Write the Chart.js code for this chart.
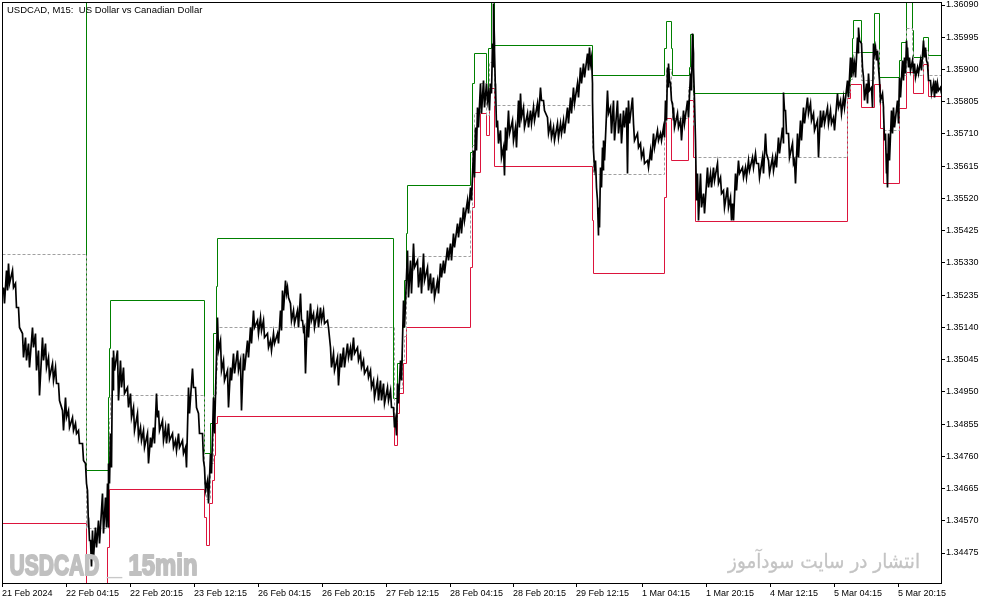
<!DOCTYPE html>
<html>
<head>
<meta charset="utf-8">
<script src="https://cdn.jsdelivr.net/npm/chart.js@4.4.1/dist/chart.umd.min.js"></script>
<style>
html,body{margin:0;padding:0;background:#fff;}
canvas{display:block;}
</style>
</head>
<body>
<canvas id="c" width="994" height="605"></canvas>
<script>
// ---------- DATA ----------
const titleText = 'USDCAD, M15:  US Dollar vs Canadian Dollar';
const watermarkSymbol = 'USDCAD';
const watermarkSep = '_';
const watermarkTf = '15min';
const watermarkSite = 'انتشار در سایت سودآموز';

const xTickBars = [0,64,128,192,256,320,384,448,511,574,640,704,768,832,896];
const xTickLabels = ['21 Feb 2024','22 Feb 04:15','22 Feb 20:15','23 Feb 12:15','26 Feb 04:15','26 Feb 20:15','27 Feb 12:15','28 Feb 04:15','28 Feb 20:15','29 Feb 12:15','1 Mar 04:15','1 Mar 20:15','4 Mar 12:15','5 Mar 04:15','5 Mar 20:15'];
const yTicks = [1.34475,1.34570,1.34665,1.34760,1.34855,1.34950,1.35045,1.35140,1.35235,1.35330,1.35425,1.35520,1.35615,1.35710,1.35805,1.35900,1.35995,1.36090];
const yMin = 1.343866, yMax = 1.360959;
const barCount = 939;

// price samples: [bar, high, low]
const priceSamples = [
[1,1.35259,1.35212],[4,1.35309,1.35250],[6,1.35330,1.35271],[10,1.35309,1.35259],[13,1.35271,1.35200],
[16,1.35200,1.35141],[20,1.35123,1.35053],[23,1.35111,1.35044],[26,1.35094,1.35023],[30,1.35141,1.35082],
[33,1.35123,1.35015],[36,1.35074,1.34941],[40,1.35111,1.35044],[43,1.35094,1.35023],[46,1.35053,1.34994],
[50,1.35035,1.34985],[53,1.35023,1.34976],[56,1.34976,1.34926],[60,1.34897,1.34838],[63,1.34935,1.34876],
[66,1.34897,1.34846],[70,1.34876,1.34838],[73,1.34858,1.34829],[76,1.34838,1.34799],[80,1.34799,1.34749],
[83,1.34740,1.34681],[85,1.34661,1.34552],[86,1.34581,1.34514],[88,1.34514,1.34437],[90,1.34543,1.34463],
[93,1.34552,1.34493],[96,1.34573,1.34505],[100,1.34652,1.34534],[103,1.34640,1.34552],[105,1.34681,1.34552],
[106,1.34740,1.34681],[108,1.34829,1.34728],[110,1.35053,1.34956],[111,1.35074,1.35015],[115,1.35074,1.34926],
[118,1.35044,1.34964],[121,1.35023,1.34947],[125,1.34964,1.34905],[128,1.34947,1.34876],[131,1.34905,1.34838],
[135,1.34888,1.34817],[138,1.34846,1.34808],[141,1.34838,1.34787],[145,1.34829,1.34740],[148,1.34817,1.34787],
[151,1.34846,1.34799],[154,1.34947,1.34876],[156,1.34897,1.34838],[160,1.34867,1.34808],[163,1.34846,1.34799],
[166,1.34858,1.34808],[170,1.34829,1.34787],[173,1.34808,1.34779],[176,1.34829,1.34787],[180,1.34808,1.34770],
[183,1.34787,1.34728],[186,1.34964,1.34888],[190,1.35020,1.34964],[193,1.34964,1.34905],[196,1.34888,1.34829],
[200,1.34829,1.34749],[202,1.34728,1.34661],[205,1.34690,1.34622],[208,1.34770,1.34711],[211,1.34935,1.34829],
[215,1.35170,1.35074],[218,1.35103,1.35015],[221,1.35044,1.34985],[225,1.35015,1.34905],[228,1.35023,1.34985],
[231,1.35065,1.35006],[235,1.35074,1.35015],[238,1.35044,1.34897],[241,1.35065,1.35015],[245,1.35103,1.35053],
[248,1.35141,1.35094],[251,1.35191,1.35141],[255,1.35162,1.35123],[258,1.35170,1.35132],[261,1.35162,1.35111],
[265,1.35123,1.35082],[268,1.35103,1.35074],[271,1.35123,1.35094],[275,1.35123,1.35094],[278,1.35191,1.35132],
[280,1.35250,1.35191],[283,1.35280,1.35241],[285,1.35259,1.35229],[288,1.35212,1.35162],[291,1.35191,1.35153],
[295,1.35191,1.35141],[298,1.35241,1.35162],[300,1.35162,1.35132],[302,1.35141,1.35006],[305,1.35191,1.35111],
[308,1.35212,1.35162],[311,1.35182,1.35141],[315,1.35191,1.35141],[318,1.35200,1.35162],[321,1.35191,1.35153],
[325,1.35162,1.35141],[328,1.35082,1.35023],[331,1.35065,1.35015],[335,1.35053,1.34970],[338,1.35065,1.35023],
[341,1.35082,1.35023],[345,1.35094,1.35053],[348,1.35082,1.35044],[351,1.35111,1.35065],[355,1.35082,1.35044],
[358,1.35065,1.35023],[361,1.35044,1.35006],[365,1.35023,1.34994],[368,1.35015,1.34964],[371,1.34985,1.34935],
[375,1.34985,1.34926],[378,1.34985,1.34926],[381,1.34976,1.34917],[385,1.34964,1.34926],[388,1.34956,1.34905],
[391,1.34905,1.34846],[393,1.34867,1.34823],[395,1.34976,1.34917],[398,1.35044,1.34985],[401,1.35221,1.35141],
[405,1.35368,1.35229],[408,1.35339,1.35241],[411,1.35389,1.35318],[415,1.35339,1.35259],[418,1.35318,1.35241],
[421,1.35359,1.35280],[425,1.35318,1.35250],[428,1.35300,1.35241],[431,1.35288,1.35229],[435,1.35280,1.35241],
[438,1.35330,1.35288],[441,1.35339,1.35300],[445,1.35377,1.35339],[448,1.35389,1.35339],[451,1.35418,1.35377],
[455,1.35448,1.35406],[458,1.35465,1.35418],[461,1.35495,1.35457],[465,1.35516,1.35477],[468,1.35554,1.35516],
[471,1.35663,1.35583],[473,1.35730,1.35663],[475,1.35789,1.35730],[478,1.35860,1.35772],[481,1.35869,1.35789],
[484,1.35860,1.35810],[486,1.35831,1.35781],[488,1.35860,1.35831],[490,1.35978,1.35907],[491,1.36096,1.35978],
[492,1.35958,1.35831],[493,1.35860,1.35730],[495,1.35751,1.35683],[498,1.35722,1.35642],[501,1.35671,1.35589],
[503,1.35730,1.35663],[506,1.35781,1.35713],[510,1.35751,1.35692],[513,1.35730,1.35671],[516,1.35810,1.35730],
[518,1.35831,1.35760],[521,1.35789,1.35730],[525,1.35772,1.35730],[528,1.35781,1.35742],[531,1.35789,1.35751],
[535,1.35801,1.35760],[538,1.35848,1.35810],[541,1.35810,1.35781],[545,1.35760,1.35713],[548,1.35742,1.35701],
[551,1.35730,1.35692],[555,1.35742,1.35701],[558,1.35742,1.35713],[561,1.35751,1.35713],[565,1.35789,1.35742],
[568,1.35819,1.35772],[571,1.35848,1.35801],[575,1.35860,1.35819],[578,1.35907,1.35860],[581,1.35919,1.35878],
[585,1.35949,1.35899],[587,1.35966,1.35919],[589,1.35937,1.35860],[590,1.35810,1.35663],[591,1.35663,1.35613],
[593,1.35634,1.35554],[595,1.35516,1.35412],[596,1.35495,1.35436],[598,1.35613,1.35554],[600,1.35671,1.35604],
[601,1.35692,1.35634],[605,1.35840,1.35772],[608,1.35789,1.35713],[611,1.35810,1.35692],[615,1.35810,1.35713],
[618,1.35772,1.35683],[621,1.35781,1.35730],[624,1.35789,1.35595],[626,1.35810,1.35742],[630,1.35819,1.35742],
[631,1.35742,1.35692],[635,1.35713,1.35671],[638,1.35683,1.35642],[641,1.35663,1.35625],[645,1.35634,1.35613],
[648,1.35663,1.35634],[651,1.35713,1.35671],[655,1.35722,1.35692],[658,1.35713,1.35692],[661,1.35730,1.35701],
[663,1.35810,1.35751],[665,1.35907,1.35848],[666,1.35919,1.35869],[668,1.35860,1.35810],[670,1.35801,1.35751],
[671,1.35789,1.35730],[675,1.35772,1.35730],[678,1.35751,1.35692],[681,1.35781,1.35742],[685,1.35810,1.35760],
[688,1.35890,1.35840],[690,1.36008,1.35949],[691,1.35907,1.35810],[693,1.35692,1.35516],[695,1.35595,1.35457],
[698,1.35595,1.35495],[701,1.35536,1.35477],[705,1.35613,1.35554],[708,1.35595,1.35554],[711,1.35613,1.35575],
[715,1.35625,1.35566],[718,1.35583,1.35536],[721,1.35545,1.35495],[725,1.35554,1.35495],[728,1.35524,1.35457],
[730,1.35507,1.35457],[733,1.35595,1.35545],[736,1.35634,1.35595],[740,1.35613,1.35583],[743,1.35613,1.35583],
[746,1.35634,1.35604],[750,1.35642,1.35613],[753,1.35654,1.35625],[756,1.35625,1.35583],[760,1.35642,1.35595],
[763,1.35713,1.35654],[766,1.35634,1.35595],[770,1.35642,1.35604],[773,1.35642,1.35613],[776,1.35701,1.35654],
[780,1.35730,1.35683],[781,1.35834,1.35781],[783,1.35781,1.35713],[786,1.35713,1.35642],[790,1.35683,1.35625],
[792,1.35634,1.35566],[795,1.35713,1.35642],[798,1.35751,1.35692],[801,1.35789,1.35742],[805,1.35819,1.35772],
[808,1.35801,1.35751],[811,1.35772,1.35722],[815,1.35751,1.35642],[818,1.35781,1.35730],[821,1.35781,1.35742],
[825,1.35789,1.35742],[828,1.35781,1.35742],[831,1.35760,1.35722],[835,1.35831,1.35789],[838,1.35810,1.35772],
[841,1.35819,1.35789],[845,1.35869,1.35819],[848,1.35937,1.35878],[850,1.35937,1.35899],[852,1.35919,1.35878],
[855,1.35996,1.35949],[856,1.36025,1.35987],[859,1.35978,1.35907],[861,1.35878,1.35810],[864,1.35860,1.35801],
[866,1.35890,1.35840],[869,1.35848,1.35789],[871,1.35978,1.35949],[873,1.35966,1.35928],[875,1.35958,1.35907],
[877,1.35869,1.35810],[880,1.35831,1.35789],[881,1.35781,1.35692],[883,1.35713,1.35595],[884,1.35654,1.35554],
[886,1.35713,1.35634],[889,1.35781,1.35713],[891,1.35789,1.35730],[895,1.35810,1.35742],[897,1.35878,1.35819],
[900,1.35928,1.35869],[902,1.35937,1.35890],[904,1.35987,1.35928],[905,1.35966,1.35907],[907,1.35937,1.35899],
[910,1.35928,1.35890],[912,1.35919,1.35878],[915,1.35907,1.35890],[918,1.35928,1.35899],[921,1.35987,1.35937],
[923,1.35966,1.35928],[925,1.35919,1.35869],[928,1.35869,1.35831],[931,1.35860,1.35819],[933,1.35869,1.35831],
[935,1.35860,1.35840],[938,1.35848,1.35831]
];

// step levels: [bar where value starts, value]
const upperSteps = [
[0,1.36149],[84,1.34720],[106,1.34935],[107,1.35079],[108,1.35221],[202,1.34770],[208,1.34858],[211,1.35123],
[214,1.35262],[215,1.35403],[391,1.34932],[395,1.35035],[400,1.35141],[402,1.35280],[404,1.35417],[405,1.35560],
[468,1.35657],[470,1.35860],[472,1.35949],[484,1.35825],[486,1.35963],[489,1.36099],[492,1.35972],[590,1.35884],
[662,1.35963],[664,1.36043],[669,1.35963],[670,1.35884],[687,1.35907],[688,1.36005],[691,1.35831],[845,1.35854],
[848,1.35890],[850,1.35993],[851,1.36046],[859,1.35951],[872,1.36066],[877,1.35878],[897,1.35928],[899,1.35981],
[904,1.36149],[910,1.36016],[911,1.35937],[921,1.35996],[926,1.35943],[939,1.35943]
];
const lowerSteps = [
[0,1.34563],[84,1.34366],[105,1.34493],[107,1.34664],[202,1.34581],[204,1.34499],[207,1.34623],[210,1.34690],
[212,1.34764],[213,1.34858],[215,1.34879],[392,1.34793],[395,1.34888],[397,1.34947],[401,1.35035],[404,1.35141],
[468,1.35318],[470,1.35495],[472,1.35598],[478,1.35772],[484,1.35707],[487,1.35845],[492,1.35616],[590,1.35456],
[591,1.35300],[662,1.35524],[664,1.35757],[669,1.35633],[686,1.35810],[691,1.35642],[693,1.35453],[845,1.35816],
[848,1.35857],[859,1.35789],[872,1.35857],[878,1.35728],[881,1.35565],[897,1.35786],[904,1.35893],[911,1.35831],
[921,1.35916],[926,1.35822],[939,1.35822]
];
const midSteps = [
[0,1.35356],[84,1.34550],[106,1.34714],[107,1.34872],[108,1.34941],[202,1.34676],[204,1.34635],[208,1.34740],
[211,1.34940],[214,1.35013],[215,1.35141],[392,1.34862],[395,1.34962],[400,1.35044],[402,1.35114],[404,1.35279],
[405,1.35350],[468,1.35487],[470,1.35677],[472,1.35773],[478,1.35860],[484,1.35766],[487,1.35922],[492,1.35794],
[590,1.35670],[591,1.35592],[662,1.35743],[664,1.35900],[669,1.35798],[670,1.35758],[686,1.35847],[688,1.35907],
[691,1.35737],[693,1.35642],[845,1.35835],[848,1.35873],[850,1.35925],[851,1.35951],[859,1.35870],[872,1.35961],
[877,1.35803],[881,1.35722],[897,1.35857],[899,1.35884],[904,1.36021],[910,1.35955],[911,1.35884],[921,1.35956],
[926,1.35883],[939,1.35883]
];

// ---------- BUILD ----------
const pricePoints = [];
priceSamples.forEach(s => { pricePoints.push({x: s[0], y: s[1]}); pricePoints.push({x: s[0] + 0.8, y: s[2]}); });
const toPts = arr => arr.map(s => ({x: s[0], y: s[1]}));

const AXIS_FONT = {family: 'Liberation Sans', size: 9};

// snap rendered line vertices to the pixel grid so 1px lines stay crisp (MetaTrader look)
const pixelSnap = {
  id: 'pixelSnap',
  beforeDatasetsDraw(chart) {
    chart.data.datasets.forEach((ds, i) => {
      const meta = chart.getDatasetMeta(i);
      meta.data.forEach(p => { p.x = Math.round(p.x) + 0.5; p.y = Math.round(p.y) + 0.5; });
      if (meta.dataset) meta.dataset._path = undefined;
    });
  }
};

const overlay = {
  id: 'overlay',
  afterDatasetsDraw(chart) {
    const ctx = chart.ctx;
    const fit = (text, x, base, width, font, color, stroke) => {
      ctx.save();
      ctx.font = font; ctx.fillStyle = color; ctx.strokeStyle = color; ctx.textAlign = 'left'; ctx.textBaseline = 'alphabetic';
      const w = ctx.measureText(text).width;
      ctx.translate(x, base); ctx.scale(width / w, 1);
      if (stroke) { ctx.lineWidth = stroke; ctx.lineJoin = 'round'; ctx.strokeText(text, 0, 0); }
      ctx.fillText(text, 0, 0);
      ctx.restore();
    };
    fit(watermarkSymbol, 9.5, 574.5, 90, 'bold 30px "Liberation Sans"', '#c0c0c0', 2);
    fit(watermarkSep, 107, 574, 15, '20px "Liberation Sans"', '#c8c8c8', 0);
    fit(watermarkTf, 128.5, 574.5, 69, 'bold 30px "Liberation Sans"', '#c0c0c0', 2);
    fit(watermarkSite, 728, 568, 192, '20px "DejaVu Sans"', '#c4c4c4', 0.3);
  },
  afterDraw(chart) {
    const ctx = chart.ctx;
    ctx.save();
    ctx.strokeStyle = '#000'; ctx.lineWidth = 1;
    ctx.strokeRect(2.5, 2.5, 939, 581);
    ctx.fillStyle = '#000';
    ctx.font = '9.5px "Liberation Sans"';
    ctx.textAlign = 'left'; ctx.textBaseline = 'alphabetic';
    ctx.fillText(titleText, 7, 13);
    ctx.restore();
  }
};

new Chart(document.getElementById('c'), {
  type: 'line',
  data: {
    datasets: [
      {label: 'price', data: pricePoints, borderColor: '#000', borderWidth: 1.7, pointRadius: 0, tension: 0},
      {label: 'mid', data: toPts(midSteps), stepped: 'before', borderColor: '#a0a0a0', borderWidth: 1, borderDash: [3, 2], pointRadius: 0},
      {label: 'upper', data: toPts(upperSteps), stepped: 'before', borderColor: '#008000', borderWidth: 1, pointRadius: 0},
      {label: 'lower', data: toPts(lowerSteps), stepped: 'before', borderColor: '#dc143c', borderWidth: 1, pointRadius: 0}
    ]
  },
  options: {
    responsive: false, animation: false, devicePixelRatio: 1,
    layout: {padding: {left: 2, top: 3, right: 0, bottom: 0}},
    plugins: {legend: {display: false}, tooltip: {enabled: false}},
    events: [],
    scales: {
      x: {
        type: 'linear', min: 0, max: barCount,
        afterBuildTicks: s => { s.ticks = xTickBars.map(v => ({value: v})); },
        afterFit: s => { s.height = 22; s.paddingLeft = 0; s.paddingRight = 0; },
        grid: {drawOnChartArea: false, drawTicks: true, tickLength: 4, color: '#000'},
        border: {display: false},
        ticks: {autoSkip: false, maxRotation: 0, minRotation: 0, align: 'start', padding: 1, color: '#000', font: AXIS_FONT,
          callback: v => { const i = xTickBars.indexOf(v); return i >= 0 ? xTickLabels[i] : ''; }}
      },
      y: {
        type: 'linear', position: 'right', min: yMin, max: yMax,
        afterBuildTicks: s => { s.ticks = yTicks.map(v => ({value: v})); },
        afterFit: s => { s.width = 53; s.paddingTop = 0; s.paddingBottom = 0; },
        grid: {drawOnChartArea: false, drawTicks: true, tickLength: 4, color: '#000'},
        border: {display: false},
        ticks: {autoSkip: false, padding: 1, color: '#000', font: AXIS_FONT, callback: v => v.toFixed(5)}
      }
    }
  },
  plugins: [pixelSnap, overlay]
});
</script>
</body>
</html>
